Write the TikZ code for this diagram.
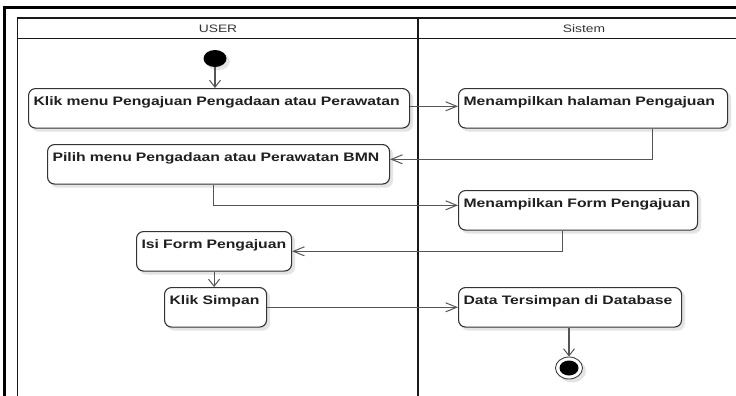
\documentclass[tikz,border=0pt]{standalone}
\usepackage{fontspec}
\setmainfont{Liberation Sans}[FakeStretch=1.28]
\usetikzlibrary{arrows.meta,shapes.geometric}
\definecolor{linegray}{HTML}{555555}
\definecolor{boxline}{HTML}{333333}
\definecolor{shade}{HTML}{E4E4E4}
\begin{document}
\begin{tikzpicture}[x=1pt,y=-1pt,
  castshadow/.style={preaction={fill=shade, draw=shade, transform canvas={xshift=3pt,yshift=-3pt}}},
  action/.style={draw=boxline, line width=1.1pt, rounded corners=7pt, fill=white,
    anchor=north west, align=left, inner xsep=5pt, inner ysep=5.5pt,
    text height=11.5pt, text depth=17pt, text=black!88,
    font=\fontsize{12.3}{14}\selectfont\bfseries, castshadow},
  lanehead/.style={font=\fontsize{10.8}{12}\selectfont, text=black!80, inner sep=0pt},
  conn/.style={draw=linegray, line width=1.1pt},
  harrow/.style={conn, -{Straight Barb[length=11pt,width=9pt,line width=1pt]}},
  varrow/.style={conn, -{Straight Barb[length=7pt,width=11pt,line width=1pt]}},
]
\clip (0,0) rectangle (736,396);
\fill[white] (0,0) rectangle (736,396);

% outer frame and swimlanes
\draw[line width=2.4pt] (4.5,420) -- (4.5,7.5) -- (760,7.5);
\draw[line width=1.5pt, black!90] (17.5,420) -- (17.5,18) -- (760,18);
\draw[line width=1.5pt, black!90] (17.5,38.5) -- (760,38.5);
\draw[line width=1.5pt, black!90] (418,18) -- (418,420);
\node[lanehead] (hu) at (218,28.5) {USER};
\node[lanehead] (hs) at (584,28.5) {Sistem};

% actions
\node[action, text width=371pt] (A) at (28,88) {Klik menu Pengajuan Pengadaan atau Perawatan};
\node[action, text width=259pt] (B) at (458,88) {Menampilkan halaman Pengajuan};
\node[action, text width=332pt] (C) at (47,144) {Pilih menu Pengadaan atau Perawatan BMN};
\node[action, text width=229pt] (D) at (458,190) {Menampilkan Form Pengajuan};
\node[action, text width=145pt] (E) at (136,231) {Isi Form Pengajuan};
\node[action, text width=92pt] (F) at (164,287) {Klik Simpan};
\node[action, text width=213pt] (G) at (458,287) {Data Tersimpan di Database};

% initial and final states
\node[ellipse, fill=black, minimum width=23pt, minimum height=17pt, inner sep=0pt,
  castshadow] (start) at (215,58.5) {};
\node[ellipse, draw=black!75, line width=0.9pt, fill=white, minimum width=27pt, minimum height=22pt, inner sep=0pt,
  castshadow] (end) at (569,368) {};
\node[ellipse, fill=black, minimum width=19pt, minimum height=15pt, inner sep=0pt] (endcore) at (end) {};

% control flow
\draw[varrow] (start) -- (start |- A.north);
\draw[harrow] ([yshift=2pt]A.east) -- ([yshift=2pt]B.west);
\draw[harrow] ([xshift=59.5pt]B.south) |- ([yshift=5pt]C.east);
\draw[harrow] ([xshift=-5pt]C.south) |- ([yshift=5pt]D.west);
\draw[harrow] ([xshift=-15.5pt]D.south) |- (E.east);
\draw[varrow] (E.south) -- (E.south |- F.north);
\draw[harrow] (F.east) -- (G.west);
\draw[varrow] (G.south -| end) -- (end.north);
\end{tikzpicture}
\end{document}
